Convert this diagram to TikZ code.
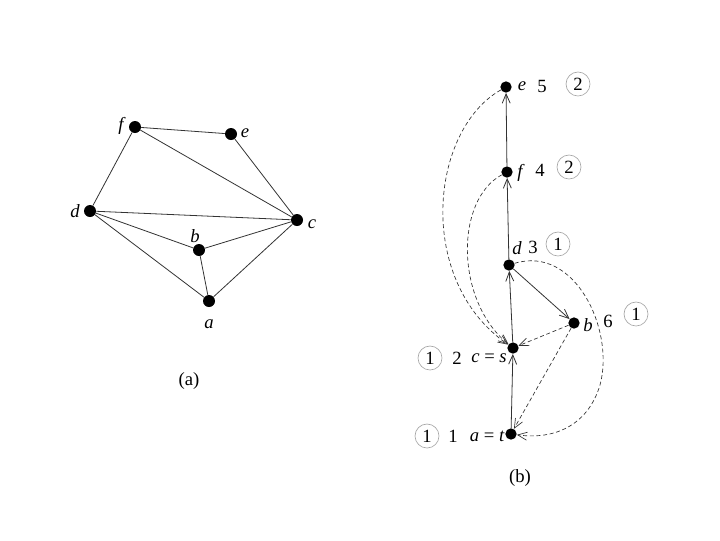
\documentclass[tikz,border=0pt]{standalone}
\usepackage{fontspec}
\setmainfont{Liberation Serif}
\usetikzlibrary{arrows.meta}
\begin{document}
\begin{tikzpicture}[x=0.75pt,y=-0.75pt,
  vtx/.style={circle,fill=black,inner sep=0pt,minimum size=9pt},
  lbl/.style={font=\fontsize{14}{16}\selectfont\itshape,inner sep=0pt},
  num/.style={font=\fontsize{14}{16}\selectfont,inner sep=0pt},
  cnum/.style={circle,draw=gray!70,line width=0.5pt,minimum size=18pt,inner sep=0pt,font=\fontsize{14}{16}\selectfont},
  edge/.style={line width=0.6pt,black!80},
  arr/.style={line width=0.6pt,black!80,-{Straight Barb[length=7pt,width=6pt]}},
  darr/.style={line width=0.5pt,black!80,dash pattern=on 3pt off 2pt,-{Straight Barb[length=7pt,width=6pt]}},
  captxt/.style={font=\fontsize{14}{16}\selectfont}]
\useasboundingbox (0,0) rectangle (720,540);
% ---------- (a)
\node[vtx] (f) at (135,127) {};
\node[vtx] (e) at (231,134) {};
\node[vtx] (d) at (90,211) {};
\node[vtx] (c) at (297,220) {};
\node[vtx] (b) at (199,250) {};
\node[vtx] (a) at (209,301) {};
\node[lbl] (lf) at (121,126) {f};
\node[lbl] (le) at (245,133) {e};
\node[lbl] (ld) at (75,211) {d};
\node[lbl] (lc) at (312,224) {c};
\node[lbl] (lb) at (195,236) {b};
\node[lbl] (la) at (209,324) {a};
\node[captxt] (capa) at (189,381) {(a)};
\draw[edge] (f) -- (e);
\draw[edge] (f) -- (c);
\draw[edge] (f) -- (d);
\draw[edge] (e) -- (c);
\draw[edge] (d) -- (c);
\draw[edge] (d) -- (b);
\draw[edge] (d) -- (a);
\draw[edge] (b) -- (c);
\draw[edge] (b) -- (a);
\draw[edge] (a) -- (c);
% ---------- (b)
\node[vtx,minimum size=8.5pt] (E) at (506,87) {};
\node[vtx,minimum size=8.5pt] (F) at (507,172) {};
\node[vtx,minimum size=8.5pt] (D) at (509,265) {};
\node[vtx,minimum size=8.5pt] (B) at (574,323) {};
\node[vtx,minimum size=8.5pt] (C) at (513,348) {};
\node[vtx,minimum size=8.5pt] (A) at (511,434) {};
\node[lbl] (lE) at (522,86) {e};
\node[num] (nE) at (542,86) {5};
\node[cnum] (cE) at (578,84) {2};
\node[lbl] (lF) at (520,173) {f};
\node[num] (nF) at (540,170) {4};
\node[cnum] (cF) at (569,167) {2};
\node[lbl] (lD) at (517,248) {d};
\node[num] (nD) at (533,247) {3};
\node[cnum] (cD) at (558,244) {1};
\node[lbl] (lB) at (588,325) {b};
\node[num] (nB) at (608,321) {6};
\node[cnum] (cB) at (636,314) {1};
\node[cnum] (cC) at (430,358) {1};
\node[num] (nC) at (457,358) {2};
\node[lbl] (lC) at (489,358) {c {\upshape =} s};
\node[cnum] (cA) at (427,436) {1};
\node[num] (nA) at (453,436) {1};
\node[lbl] (lA) at (487,436) {a {\upshape =} t};
\node[captxt] (capb) at (520,478) {(b)};
% solid tree arrows
\draw[arr] (F) -- (E);
\draw[arr] (D) -- (F);
\draw[arr] (C) -- (D);
\draw[arr] (A) -- (C);
\draw[arr] (D) -- (B);
% dashed back arrows
\draw[darr] (E) .. controls (430,130) and (415,280) .. (C);
\draw[darr] (F) .. controls (455,200) and (455,300) .. (C);
\draw[darr] (B) -- (C);
\draw[darr] (B) -- (A);
\draw[darr] (D) .. controls (575,245) and (615,330) .. (600,385) .. controls (588,425) and (555,440) .. (A);
\end{tikzpicture}
\end{document}
